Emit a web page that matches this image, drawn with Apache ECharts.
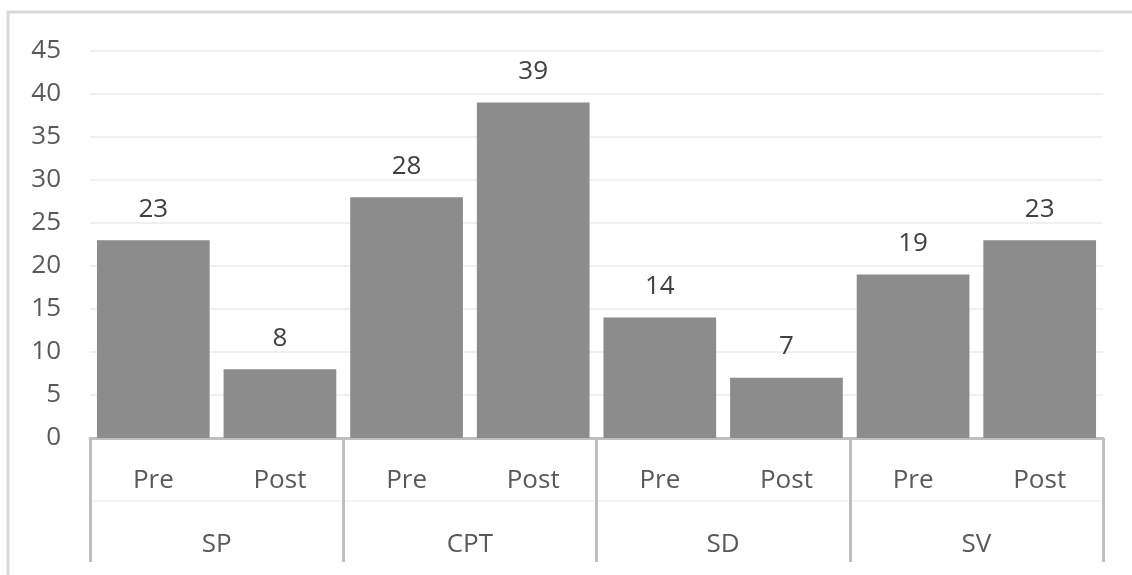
<!DOCTYPE html>
<html>
<head>
<meta charset="utf-8">
<script src="https://cdn.jsdelivr.net/npm/echarts@6/dist/echarts.min.js"></script>
<style>
  html, body { margin: 0; padding: 0; background: #ffffff; }
  #chart { width: 1132px; height: 575px; }
</style>
</head>
<body>
<div id="chart"></div>
<script>
// Measures, each with a Pre and a Post score
const groups = ['SP', 'CPT', 'SD', 'SV'];
const phases = ['Pre', 'Post'];
const preValues = [23, 28, 14, 19];
const postValues = [8, 39, 7, 23];
const yTicks = { min: 0, max: 45, step: 5 };

// Flatten into one category per bar: SP-Pre, SP-Post, CPT-Pre, ...
const barCategories = [];
const barValues = [];
groups.forEach((g, i) => {
  barCategories.push(phases[0]);
  barValues.push(preValues[i]);
  barCategories.push(phases[1]);
  barValues.push(postValues[i]);
});

const font = '"Open Sans", "Liberation Sans", Arial, sans-serif';
const fontSize = 26;
const chart = echarts.init(document.getElementById('chart'), null, { renderer: 'canvas' });

chart.setOption({
  animation: false,
  backgroundColor: '#ffffff',
  graphic: [{
    type: 'rect',
    shape: { x: 8, y: 12, width: 1300, height: 800 },
    style: { fill: 'none', stroke: '#d9d9d9', lineWidth: 3 },
    silent: true,
    z: 0
  }],
  grid: { left: 90, right: 29, top: 51, bottom: 137, containLabel: false },
  xAxis: [
    {
      // inner level: Pre / Post under each bar
      type: 'category',
      data: barCategories,
      position: 'bottom',
      axisLine: { show: true, lineStyle: { color: '#bfbfbf', width: 3 } },
      axisTick: { show: false },
      axisLabel: { color: '#595959', fontSize: fontSize, fontFamily: font, margin: 30, interval: 0 }
    },
    {
      // outer level: measure names, with long dividers between groups
      type: 'category',
      data: groups,
      position: 'bottom',
      axisLine: { show: false },
      axisTick: { show: true, length: 124, interval: 0, lineStyle: { color: '#bfbfbf', width: 3 } },
      axisLabel: { color: '#595959', fontSize: fontSize, fontFamily: font, margin: 94, interval: 0 }
    },
    {
      // faint rule separating the two label rows
      type: 'category',
      data: groups,
      position: 'bottom',
      offset: 63,
      axisLine: { show: true, lineStyle: { color: '#f4f4f4', width: 2 } },
      axisTick: { show: false },
      axisLabel: { show: false }
    }
  ],
  yAxis: {
    type: 'value',
    min: yTicks.min,
    max: yTicks.max,
    interval: yTicks.step,
    axisLine: { show: false },
    axisTick: { show: false },
    axisLabel: { color: '#595959', fontSize: fontSize, fontFamily: font, margin: 29 },
    splitLine: { lineStyle: { color: '#f0f0f0', width: 2 } }
  },
  series: [{
    type: 'bar',
    xAxisIndex: 0,
    data: barValues,
    barCategoryGap: '11%',
    itemStyle: { color: '#8c8c8c' },
    label: {
      show: true,
      position: 'top',
      distance: 18,
      color: '#404040',
      fontSize: fontSize,
      fontFamily: font
    }
  }]
});
</script>
</body>
</html>
